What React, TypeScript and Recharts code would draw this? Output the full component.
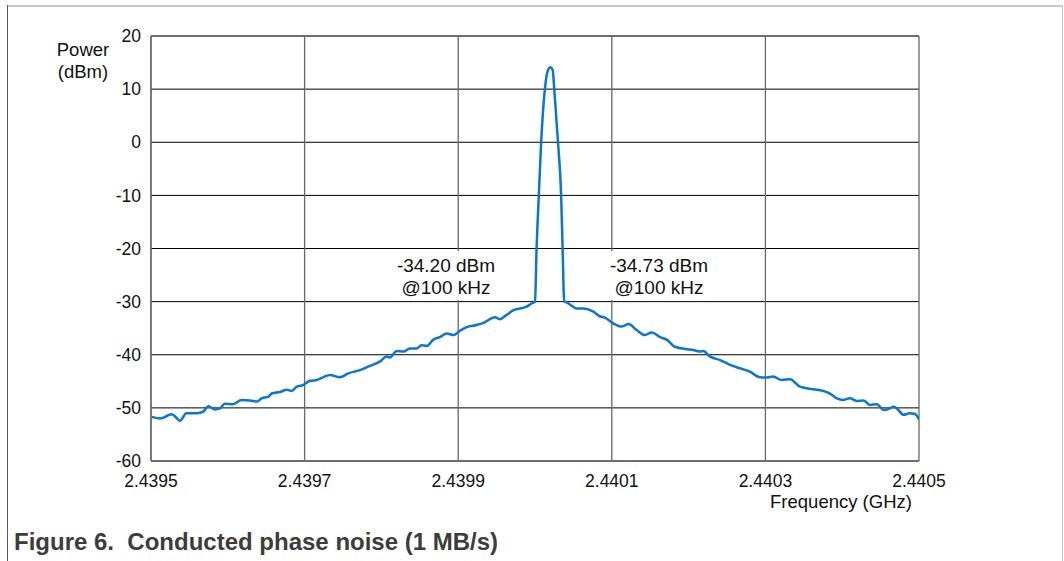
import React from "react";
import {
  CartesianGrid,
  Line,
  LineChart,
  ReferenceLine,
  XAxis,
  YAxis,
} from "recharts";

const freqGHz = [
  2.439501, 2.439512, 2.439527, 2.439538, 2.439546, 2.43956, 2.439568,
  2.439575, 2.439583, 2.43959, 2.439596, 2.439607, 2.439618, 2.439629,
  2.439638, 2.439644, 2.439653, 2.439657, 2.439668, 2.439677, 2.439683,
  2.43969, 2.439698, 2.439707, 2.439716, 2.439724, 2.439733, 2.439746,
  2.439757, 2.439772, 2.439785, 2.439798, 2.439807, 2.439811, 2.43982,
  2.439829, 2.439837, 2.439846, 2.439852, 2.439859, 2.439868, 2.439876,
  2.439885, 2.439894, 2.439902, 2.439911, 2.439924, 2.439933, 2.439948,
  2.439954, 2.439963, 2.439972, 2.439989, 2.439996, 2.44, 2.440002, 2.440005,
  2.440008, 2.440013, 2.440017, 2.44002, 2.440023, 2.440025, 2.44003,
  2.440034, 2.440036, 2.440038, 2.440039, 2.440046, 2.440054, 2.440063,
  2.440076, 2.440085, 2.440091, 2.440102, 2.440113, 2.440122, 2.440132,
  2.440143, 2.440152, 2.440163, 2.440172, 2.440182, 2.440198, 2.440206,
  2.440215, 2.440219, 2.440228, 2.440241, 2.440254, 2.440267, 2.44028,
  2.440293, 2.440302, 2.44031, 2.440321, 2.440332, 2.440345, 2.440362,
  2.440375, 2.440384, 2.440393, 2.440401, 2.44041, 2.440419, 2.440428,
  2.440436, 2.440445, 2.440454, 2.440462, 2.440467, 2.440471, 2.44048,
  2.440488, 2.440495, 2.4405,
];

const powerDbm = [
  -51.7, -52.0, -51.2, -52.4, -51.0, -51.0, -50.7, -49.7, -50.3, -50.1,
  -49.2, -49.3, -48.5, -48.6, -48.8, -48.2, -47.9, -47.3, -47.0, -46.6,
  -46.8, -46.0, -45.7, -44.9, -44.75, -44.25, -43.8, -44.25, -43.5, -42.9,
  -42.1, -41.3, -40.35, -40.5, -39.3, -39.4, -38.8, -38.8, -38.2, -38.35,
  -37.1, -36.7, -36.0, -36.3, -35.5, -34.8, -34.4, -34.0, -32.95, -33.3,
  -32.5, -31.6, -30.95, -30.3, -30.0, -20.3, -9.9, -0.1, 10.2, 13.6, 14.1,
  13.6, 10.2, -0.1, -9.9, -20.3, -30.0, -30.0, -30.6, -31.3, -31.3, -31.9,
  -32.8, -33.0, -34.1, -34.7, -34.2, -35.3, -36.3, -35.8, -36.7, -37.2,
  -38.5, -38.95, -39.1, -39.4, -39.3, -40.35, -41.0, -41.9, -42.55, -43.2,
  -44.25, -44.3, -44.1, -44.75, -44.6, -46.0, -46.5, -46.8, -47.3, -48.2,
  -48.5, -48.2, -48.7, -48.6, -49.45, -49.3, -50.4, -50.1, -49.8, -50.1,
  -51.3, -51.0, -51.15, -52.2,
];

const xTicks = [2.4395, 2.4397, 2.4399, 2.4401, 2.4403, 2.4405];
const yTicks = [-60, -50, -40, -30, -20, -10, 0, 10, 20];

const leftNote = ["-34.20 dBm", "@100 kHz"];
const rightNote = ["-34.73 dBm", "@100 kHz"];

const data = freqGHz.map((f, i) => ({ f, p: powerDbm[i] }));

const FONT = '"Liberation Sans", Arial, Helvetica, sans-serif';
const BLUE = "#0b76cf";
const BORDER = "#686868";

function Note({ lines, left }: { lines: string[]; left: number }) {
  return (
    <div
      style={{
        position: "absolute",
        left,
        top: 251,
        width: 106,
        height: 49,
        background: "#fff",
        paddingTop: 4,
        boxSizing: "border-box",
        textAlign: "center",
        fontSize: 19,
        lineHeight: "22px",
        color: "#111",
      }}
    >
      {lines.map((l) => (
        <div key={l}>{l}</div>
      ))}
    </div>
  );
}

export default function App() {
  return (
    <div
      style={{
        position: "absolute",
        left: 0,
        top: 0,
        width: 1064,
        height: 561,
        overflow: "hidden",
        background: "#fff",
        fontFamily: FONT,
      }}
    >
      {/* page frame */}
      <div style={{ position: "absolute", left: 7, top: 5, width: 1056, height: 2, background: "#c8c8c8" }} />
      <div style={{ position: "absolute", left: 7, top: 5, width: 1, height: 556, background: "#5a5a5a" }} />
      <div style={{ position: "absolute", left: 1062, top: 5, width: 1, height: 556, background: "#c8c8c8" }} />

      <div style={{ position: "absolute", left: 0, top: 0 }}>
        <LineChart
          width={1064}
          height={561}
          data={data}
          margin={{ top: 36, right: 145, bottom: 60, left: 0 }}
        >
          <CartesianGrid horizontal vertical={false} stroke="#000" strokeWidth={1} />
          <CartesianGrid horizontal={false} vertical stroke={BORDER} strokeWidth={1.3} />
          <XAxis
            dataKey="f"
            type="number"
            scale="linear"
            domain={[2.4395, 2.4405]}
            ticks={xTicks}
            allowDataOverflow
            height={40}
            tickLine={false}
            tickSize={0}
            tickMargin={14}
            axisLine={{ stroke: BORDER, strokeWidth: 1.3 }}
            tick={{ fontSize: 17.5, fill: "#111", fontFamily: FONT }}
            tickFormatter={(v: number) => v.toFixed(4)}
          />
          <YAxis
            type="number"
            domain={[-60, 20]}
            ticks={yTicks}
            width={151}
            tickLine={false}
            tickSize={0}
            tickMargin={10}
            axisLine={{ stroke: BORDER, strokeWidth: 1.3 }}
            tick={{ fontSize: 17.5, fill: "#111", fontFamily: FONT }}
          />
          <ReferenceLine y={20} stroke={BORDER} strokeWidth={1.3} />
          <Line
            type="monotone"
            dataKey="p"
            stroke={BLUE}
            strokeWidth={2.5}
            dot={false}
            isAnimationActive={false}
          />
        </LineChart>
      </div>

      <Note lines={leftNote} left={393} />
      <Note lines={rightNote} left={606} />

      {/* axis titles */}
      <div
        style={{
          position: "absolute",
          left: 33,
          top: 39,
          width: 100,
          textAlign: "center",
          fontSize: 18.5,
          lineHeight: "22px",
          color: "#111",
        }}
      >
        <div>Power</div>
        <div>(dBm)</div>
      </div>
      <div
        style={{
          position: "absolute",
          left: 741,
          top: 491,
          width: 200,
          textAlign: "center",
          fontSize: 18.5,
          lineHeight: "22px",
          color: "#111",
        }}
      >
        Frequency (GHz)
      </div>

      <div
        style={{
          position: "absolute",
          left: 14,
          top: 530,
          fontSize: 24,
          lineHeight: "24px",
          fontWeight: 700,
          color: "#3c3c3c",
          whiteSpace: "nowrap",
        }}
      >
        Figure 6.&nbsp; Conducted phase noise (1 MB/s)
      </div>
    </div>
  );
}
